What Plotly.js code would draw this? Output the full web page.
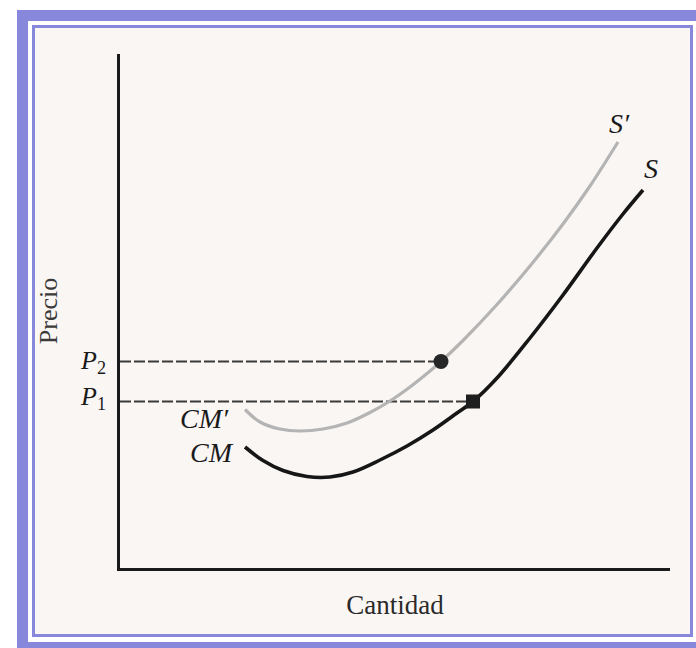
<!DOCTYPE html>
<html>
<head>
<meta charset="utf-8">
<script src="https://cdn.plot.ly/plotly-3.0.1.min.js"></script>
<style>html,body{margin:0;padding:0;background:#fff;}</style>
</head>
<body>
<div id="chart" style="width:696px;height:648px;"></div>
<script>
// ---- Data ----
// Curve S (cost curve CM -> supply S), black
const quantityS = [2.50, 2.86, 3.26, 3.74, 4.20, 4.66, 5.20, 5.74, 6.26, 6.74, 7.06, 7.54, 8.20, 8.86, 9.54, 10.06, 10.46];
const priceS    = [2.42, 2.15, 1.95, 1.83, 1.82, 1.92, 2.16, 2.44, 2.76, 3.10, 3.33, 3.80, 4.60, 5.46, 6.40, 7.08, 7.56];
// Curve S' (cost curve CM' -> supply S'), grey
const quantitySp = [2.50, 2.80, 3.20, 3.60, 4.06, 4.54, 5.00, 5.40, 5.80, 6.20, 6.42, 6.86, 7.54, 8.20, 8.86, 9.40, 9.96];
const priceSp    = [3.17, 2.92, 2.78, 2.74, 2.78, 2.90, 3.11, 3.34, 3.62, 3.94, 4.13, 4.55, 5.27, 6.04, 6.88, 7.64, 8.52];
// Prices and equilibrium quantities
const priceLabels = ["P1", "P2"];
const prices      = [3.33, 4.13];
const eqQuantity  = [7.06, 6.42];
const curveLabels = ["CM", "CM′", "S", "S′"];
const axisTitles  = ["Cantidad", "Precio"];

// ---- Layout helpers (pixel -> paper) ----
const W = 696, H = 648;
const M = {l: 120, r: 26, t: 54, b: 80};
const PW = W - M.l - M.r, PH = H - M.t - M.b;
const px = v => (v - M.l) / PW;
const py = v => (H - M.b - v) / PH;
const purple = '#8787dc';
const serif = 'Liberation Serif, Times New Roman, serif';

const traces = [
  { // dashed price lines
    x: [0, eqQuantity[1]], y: [prices[1], prices[1]], mode: 'lines',
    line: {color: '#3a3a3a', width: 2, dash: '11px,3px'}, hoverinfo: 'skip'
  },
  {
    x: [0, eqQuantity[0]], y: [prices[0], prices[0]], mode: 'lines',
    line: {color: '#3a3a3a', width: 2, dash: '11px,3px'}, hoverinfo: 'skip'
  },
  {
    x: quantitySp, y: priceSp, mode: 'lines', name: curveLabels[3],
    line: {color: '#b4b4b4', width: 3.2, shape: 'spline', smoothing: 1}
  },
  {
    x: quantityS, y: priceS, mode: 'lines', name: curveLabels[2],
    line: {color: '#161616', width: 3.6, shape: 'spline', smoothing: 1}
  },
  {
    x: [eqQuantity[1]], y: [prices[1]], mode: 'markers',
    marker: {symbol: 'circle', size: 15, color: '#262626'}
  },
  {
    x: [eqQuantity[0]], y: [prices[0]], mode: 'markers',
    marker: {symbol: 'square', size: 14, color: '#1e1e1e'}
  }
];

const lastS = quantityS.length - 1, lastSp = quantitySp.length - 1;
const annFont = {family: serif, size: 28, color: '#1a1a1a'};

const layout = {
  width: W, height: H,
  margin: M,
  paper_bgcolor: '#ffffff',
  plot_bgcolor: 'rgba(0,0,0,0)',
  showlegend: false,
  xaxis: {
    range: [0, PW / 50], showgrid: false, zeroline: false,
    showticklabels: false, ticks: '', showline: true, linecolor: '#1a1a1a', linewidth: 3,
    title: {text: axisTitles[0], font: {family: serif, size: 27, color: '#2a2a2a'}, standoff: 26},
    automargin: false, fixedrange: true
  },
  yaxis: {
    range: [0, PH / 50], showgrid: false, zeroline: false,
    showticklabels: false, ticks: '', showline: true, linecolor: '#1a1a1a', linewidth: 3,
    title: {text: axisTitles[1], font: {family: serif, size: 26, color: '#3a3a3a'}, standoff: 52},
    automargin: false, fixedrange: true
  },
  shapes: [
    {type: 'rect', xref: 'paper', yref: 'paper', layer: 'below',
     x0: px(17), x1: px(28), y0: py(10), y1: py(648), fillcolor: purple, line: {width: 0}},
    {type: 'rect', xref: 'paper', yref: 'paper', layer: 'below',
     x0: px(17), x1: px(696), y0: py(10), y1: py(21), fillcolor: purple, line: {width: 0}},
    {type: 'rect', xref: 'paper', yref: 'paper', layer: 'below',
     x0: px(17), x1: px(696), y0: py(642), y1: py(648), fillcolor: purple, line: {width: 0}},
    {type: 'rect', xref: 'paper', yref: 'paper', layer: 'below',
     x0: px(33.5), x1: px(691.5), y0: py(26.5), y1: py(635.5),
     fillcolor: '#faf6f4', line: {color: purple, width: 3}}
  ],
  annotations: [
    {xref: 'paper', yref: 'y', x: px(93), y: prices[1], xanchor: 'center', yanchor: 'middle',
     text: '<i>' + priceLabels[1][0] + '</i><sub>' + priceLabels[1][1] + '</sub>', showarrow: false,
     font: {family: serif, size: 26, color: '#1a1a1a'}, yshift: 0},
    {xref: 'paper', yref: 'y', x: px(93), y: prices[0], xanchor: 'center', yanchor: 'middle',
     text: '<i>' + priceLabels[0][0] + '</i><sub>' + priceLabels[0][1] + '</sub>', showarrow: false,
     font: {family: serif, size: 26, color: '#1a1a1a'}, yshift: 4},
    {x: quantitySp[0], y: priceSp[0], xanchor: 'center', yanchor: 'middle', showarrow: false,
     text: '<i>' + curveLabels[1] + '</i>', font: annFont, xshift: -41, yshift: -9},
    {x: quantityS[0], y: priceS[0], xanchor: 'center', yanchor: 'middle', showarrow: false,
     text: '<i>' + curveLabels[0] + '</i>', font: annFont, xshift: -33, yshift: -5},
    {x: quantitySp[lastSp], y: priceSp[lastSp], xanchor: 'center', yanchor: 'middle', showarrow: false,
     text: '<i>' + curveLabels[3] + '</i>', font: {family: serif, size: 28, color: '#1a1a1a'}, xshift: 1, yshift: 19},
    {x: quantityS[lastS], y: priceS[lastS], xanchor: 'center', yanchor: 'middle', showarrow: false,
     text: '<i>' + curveLabels[2] + '</i>', font: {family: serif, size: 28, color: '#1a1a1a'}, xshift: 8, yshift: 22}
  ]
};

Plotly.newPlot('chart', traces, layout, {staticPlot: true, displayModeBar: false});
</script>
</body>
</html>
